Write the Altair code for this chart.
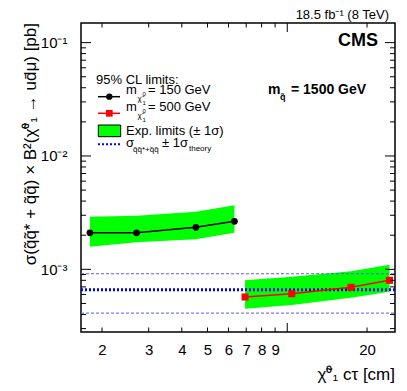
import altair as alt
import pandas as pd

# ---------------- data ----------------
ctau_150 = [1.80, 2.70, 4.52, 6.32]
obs_150 = [2.10e-3, 2.10e-3, 2.35e-3, 2.65e-3]
exp_lo_150 = [1.58e-3, 1.73e-3, 1.84e-3, 2.10e-3]
exp_hi_150 = [2.91e-3, 2.97e-3, 3.22e-3, 3.67e-3]

ctau_500 = [6.93, 10.4, 17.4, 24.3]
obs_500 = [5.70e-4, 6.09e-4, 6.94e-4, 8.00e-4]
exp_lo_500 = [4.49e-4, 4.84e-4, 5.62e-4, 6.34e-4]
exp_hi_500 = [8.00e-4, 8.60e-4, 9.60e-4, 1.10e-3]

theory_central = [6.6e-4]
theory_band = [4.11e-4, 9.14e-4]

x_tick_labels = [2, 3, 4, 5, 6, 7, 8, 9, 10, 20]
x_minor_ticks = [2, 3, 4, 5, 6, 7, 8, 9, 20]
x_major_ticks = [10]
y_major_ticks = [1e-3, 1e-2, 1e-1]
y_minor_ticks = [3e-4, 4e-4, 5e-4, 6e-4, 7e-4, 8e-4, 9e-4,
                 2e-3, 3e-3, 4e-3, 5e-3, 6e-3, 7e-3, 8e-3, 9e-3,
                 2e-2, 3e-2, 4e-2, 5e-2, 6e-2, 7e-2, 8e-2, 9e-2]

W, H = 314, 309
FONT = "Liberation Sans"

xs = alt.Scale(type="log", domain=[1.666, 25.5], nice=False)
ys = alt.Scale(type="log", domain=[2.8e-4, 0.149], nice=False)

df150 = pd.DataFrame({"ctau": ctau_150, "obs": obs_150, "lo": exp_lo_150, "hi": exp_hi_150})
df500 = pd.DataFrame({"ctau": ctau_500, "obs": obs_500, "lo": exp_lo_500, "hi": exp_hi_500})

x_axis = alt.Axis(values=x_tick_labels, format="d", ticks=False, tickSize=0, domain=False,
                  grid=False, title=None, labelFontSize=15, labelPadding=10,
                  labelFont=FONT, labelColor="black", labelFlush=False)
y_axis = alt.Axis(values=y_major_ticks, ticks=False, tickSize=0, domain=False, grid=False,
                  title=None, labelFontSize=15, labelPadding=14, labelFont=FONT,
                  labelColor="black", labelFlush=False,
                  labelExpr="datum.value > 0.05 ? '10\u207b\u00b9' : (datum.value > 0.005 ? '10\u207b\u00b2' : '10\u207b\u00b3')")


def X(field):
    return alt.X(field, scale=xs, axis=x_axis)


def Y(field):
    return alt.Y(field, scale=ys, axis=y_axis)


band150 = alt.Chart(df150).mark_area(color="#00ff00", opacity=1).encode(
    x=X("ctau:Q"), y=Y("lo:Q"), y2="hi:Q")
band500 = alt.Chart(df500).mark_area(color="#00ff00", opacity=1).encode(
    x=X("ctau:Q"), y=Y("lo:Q"), y2="hi:Q")

th_c = alt.Chart(pd.DataFrame({"v": theory_central})).mark_rule(
    color="#0000ff", strokeWidth=3, strokeDash=[2, 2]).encode(
    y=Y("v:Q"), x=alt.value(0), x2=alt.value(W))
th_b = alt.Chart(pd.DataFrame({"v": theory_band})).mark_rule(
    color="#5a5aff", strokeWidth=1, strokeDash=[3, 2]).encode(
    y=Y("v:Q"), x=alt.value(0), x2=alt.value(W))

line150 = alt.Chart(df150).mark_line(color="black", strokeWidth=1.5).encode(
    x=X("ctau:Q"), y=Y("obs:Q"))
pts150 = alt.Chart(df150).mark_point(shape="circle", filled=True, color="black", size=45, opacity=1).encode(
    x=X("ctau:Q"), y=Y("obs:Q"))
line500 = alt.Chart(df500).mark_line(color="#ff0000", strokeWidth=1.5).encode(
    x=X("ctau:Q"), y=Y("obs:Q"))
pts500 = alt.Chart(df500).mark_point(shape="square", filled=True, color="#ff0000", size=50, opacity=1).encode(
    x=X("ctau:Q"), y=Y("obs:Q"))


# ---------------- inward ticks (ROOT style) ----------------
def yticks(vals, length):
    d = pd.DataFrame({"v": vals})
    left = alt.Chart(d).mark_rule(color="black", strokeWidth=1).encode(
        y=Y("v:Q"), x=alt.value(0), x2=alt.value(length))
    right = alt.Chart(d).mark_rule(color="black", strokeWidth=1).encode(
        y=Y("v:Q"), x=alt.value(W - length), x2=alt.value(W))
    return [left, right]


def xticks(vals, length):
    d = pd.DataFrame({"v": vals})
    bottom = alt.Chart(d).mark_rule(color="black", strokeWidth=1).encode(
        x=X("v:Q"), y=alt.value(H - length), y2=alt.value(H))
    top = alt.Chart(d).mark_rule(color="black", strokeWidth=1).encode(
        x=X("v:Q"), y=alt.value(0), y2=alt.value(length))
    return [bottom, top]


tick_layers = yticks(y_major_ticks, 10) + yticks(y_minor_ticks, 5) + \
    xticks(x_major_ticks, 9) + xticks(x_minor_ticks, 4.5)


# ---------------- texts & legend ----------------
def txt(s, x, y, size=13, align="left", weight="normal", angle=0, baseline="middle", color="black"):
    props = dict(align=align, baseline=baseline, fontSize=size, font=FONT,
                 fontWeight=weight, color=color)
    if angle:
        props["angle"] = angle
    return alt.Chart(pd.DataFrame({"t": [s]})).mark_text(**props).encode(
        x=alt.value(x), y=alt.value(y), text="t:N")


texts = [
    txt("18.5 fb\u207b\u00b9 (8 TeV)", W - 6, -8, size=13, align="right"),
    txt("CMS", 297, 18, size=18, align="right", weight="bold"),
    txt("m", 187, 67, size=14, weight="bold"),
    txt("q\u0303", 199, 74, size=9, weight="bold"),
    txt("= 1500 GeV", 210, 67, size=14, weight="bold"),
    txt("\u03c3(q\u0303q\u0303* + q\u0303q\u0303) \u00d7 B\u00b2(\u03c7\u0303\u2070\u2081 \u2192 ud\u0304\u03bc) [pb]",
        -50, 0, size=17, align="right", angle=270),
    txt("\u03c7\u0303\u2070\u2081 c\u03c4 [cm]", W, 352, size=17, align="right"),
    # legend
    txt("95% CL limits:", 15, 57, size=13),
    txt("m", 45, 67, size=13),
    txt("\u03c7\u0303", 56.5, 76, size=8),
    txt("0", 61.5, 71, size=6),
    txt("1", 61.5, 80, size=6),
    txt("= 150 GeV", 67, 67, size=13),
    txt("m", 45, 84, size=13),
    txt("\u03c7\u0303", 56.5, 93, size=8),
    txt("0", 61.5, 88, size=6),
    txt("1", 61.5, 97, size=6),
    txt("= 500 GeV", 67, 84, size=13),
    txt("Exp. limits (\u00b1 1\u03c3)", 45, 107.5, size=13),
    txt("\u03c3", 45, 120, size=13),
    txt("q\u0303q\u0303*+q\u0303q\u0303", 52, 126.5, size=8),
    txt("\u00b1 1\u03c3", 81, 120, size=13),
    txt("theory", 108, 125.5, size=8),
]

leg_df = pd.DataFrame({"a": [0]})
legend_marks = [
    alt.Chart(leg_df).mark_rule(color="black", strokeWidth=1.5).encode(
        x=alt.value(17), x2=alt.value(39), y=alt.value(73.7)),
    alt.Chart(leg_df).mark_point(shape="circle", filled=True, color="black", size=40, opacity=1).encode(
        x=alt.value(28.3), y=alt.value(73.7)),
    alt.Chart(leg_df).mark_rule(color="#ff0000", strokeWidth=1.5).encode(
        x=alt.value(17), x2=alt.value(39), y=alt.value(90.3)),
    alt.Chart(leg_df).mark_point(shape="square", filled=True, color="#ff0000", size=45, opacity=1).encode(
        x=alt.value(28.3), y=alt.value(90.3)),
    alt.Chart(leg_df).mark_rect(color="#00ff00", stroke="black", strokeWidth=1).encode(
        x=alt.value(17.3), x2=alt.value(39.7), y=alt.value(102), y2=alt.value(113.7)),
    alt.Chart(leg_df).mark_rule(color="#0000ff", strokeWidth=2, strokeDash=[2, 2]).encode(
        x=alt.value(17), x2=alt.value(39), y=alt.value(121.3)),
]

chart = alt.layer(
    band150, band500, th_b, th_c, line150, line500, pts150, pts500,
    *tick_layers, *legend_marks, *texts
).properties(
    width=W, height=H,
    autosize=alt.AutoSizeParams(type="none"),
    padding={"left": 73, "top": 15, "right": 4, "bottom": 51},
    background="white",
).configure_view(stroke="black", strokeWidth=1.5)

chart.save("out.html", embed_options={"renderer": "svg", "actions": False})
